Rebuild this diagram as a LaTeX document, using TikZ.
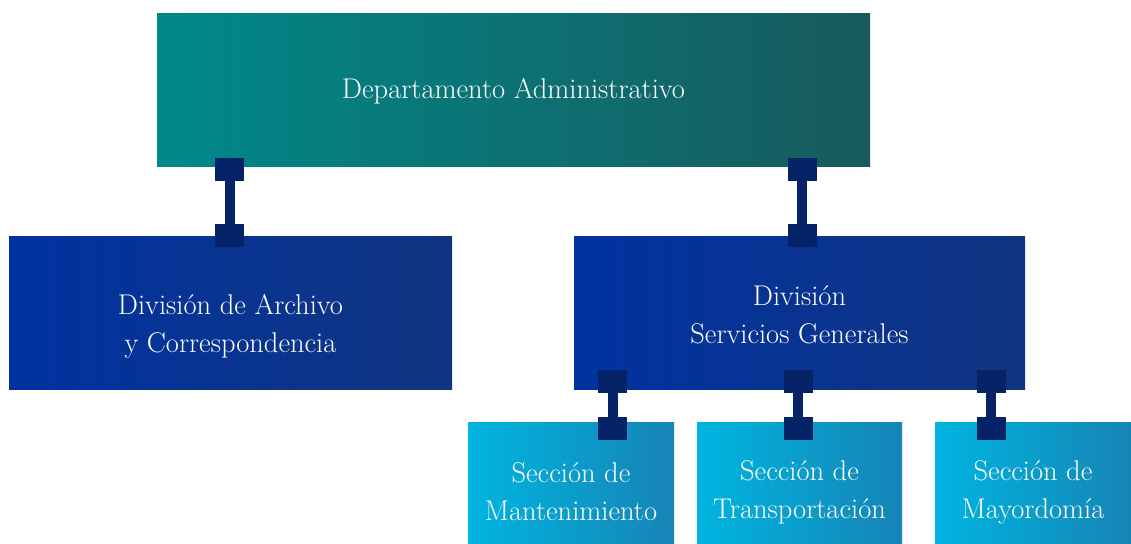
\documentclass[tikz,border=0pt]{standalone}
\usetikzlibrary{positioning}
\definecolor{tealL}{RGB}{0,137,138}
\definecolor{tealR}{RGB}{24,90,92}
\definecolor{divL}{RGB}{0,51,161}
\definecolor{divR}{RGB}{16,52,128}
\definecolor{secL}{RGB}{0,181,224}
\definecolor{secR}{RGB}{22,132,181}
\definecolor{linkblue}{RGB}{5,35,102}

\begin{document}
\begin{tikzpicture}[
    x=1pt, y=-1pt,
    boxtext/.style={inner sep=0pt, text=white, align=center, font=\fontsize{28.5}{38}\selectfont},
    deptbox/.style={inner sep=0pt, left color=tealL, right color=tealR, minimum width=713pt, minimum height=152pt},
    divbox/.style={inner sep=0pt, left color=divL, right color=divR, minimum height=153pt},
    secbox/.style={inner sep=0pt, left color=secL, right color=secR, minimum height=121pt},
    knob/.style={fill=linkblue, inner sep=0pt, minimum width=29pt, minimum height=23pt},
    link/.style={draw=linkblue, line width=10pt}
]
\useasboundingbox (0,0) rectangle (1131,543);

% boxes
\node[deptbox, label={[boxtext, yshift=-1pt]center:Departamento Administrativo}] (dept) at (513.5,90) {};
\node[divbox, minimum width=443pt, label={[boxtext, yshift=-13.5pt]center:{División de Archivo\\y Correspondencia}}] (archivo) at (230.5,312.5) {};
\node[divbox, minimum width=451pt, label={[boxtext, yshift=-2pt]center:{División\\Servicios Generales}}] (servicios) at (799.5,312.5) {};
\node[secbox, minimum width=206pt, label={[boxtext, yshift=-9.5pt]center:{Sección de\\Mantenimiento}}] (mant) at (571,482.5) {};
\node[secbox, minimum width=205pt, label={[boxtext, yshift=-9.5pt]center:{Sección de\\Transportación}}] (transp) at (799.5,482.5) {};
\node[secbox, minimum width=196pt, label={[boxtext, yshift=-9.5pt]center:{Sección de\\Mayordomía}}] (mayor) at (1033,482.5) {};

% links
\node[knob] (k1a) at (229.5,169.5) {};
\node[knob] (k1b) at (229.5,235.5) {};
\node[knob] (k2a) at (802,169.5) {};
\node[knob] (k2b) at (802,235.5) {};
\node[knob] (k3a) at (612.5,381.5) {};
\node[knob] (k3b) at (612.5,428.5) {};
\node[knob] (k4a) at (798,381.5) {};
\node[knob] (k4b) at (798,428.5) {};
\node[knob] (k5a) at (991,381.5) {};
\node[knob] (k5b) at (991,428.5) {};
\foreach \a/\b in {k1a/k1b, k2a/k2b, k3a/k3b, k4a/k4b, k5a/k5b}
    \draw[link] (\a) -- (\b);
\end{tikzpicture}
\end{document}
